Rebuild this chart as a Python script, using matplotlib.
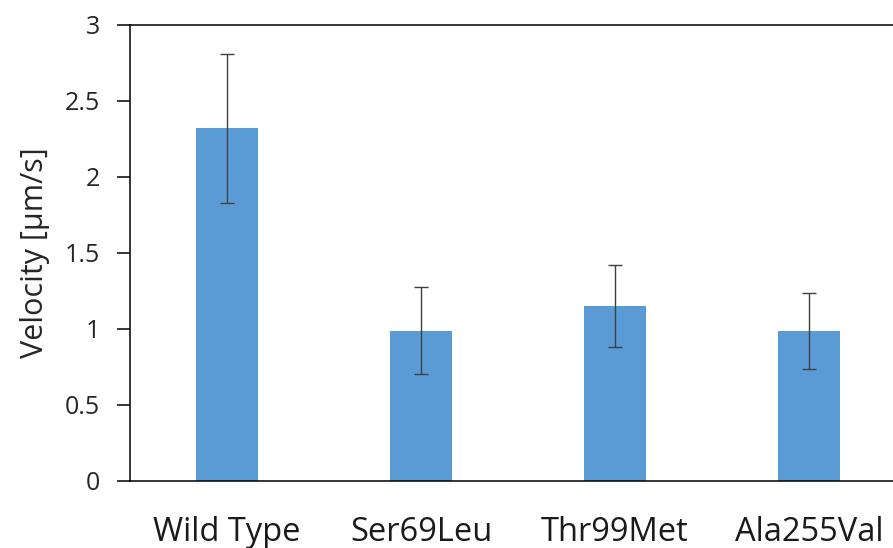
import matplotlib
matplotlib.use("Agg")
import matplotlib.pyplot as plt

categories = ["Wild Type", "Ser69Leu", "Thr99Met", "Ala255Val"]
velocity = [2.32, 0.99, 1.15, 0.99]
errors = [0.49, 0.285, 0.27, 0.25]
yticks = [0, 0.5, 1, 1.5, 2, 2.5, 3]
ytick_labels = ["0", "0.5", "1", "1.5", "2", "2.5", "3"]

plt.rcParams['font.family'] = ['Open Sans', 'DejaVu Sans']

fig = plt.figure(figsize=(8.93, 5.48), dpi=100)
W, H = 893, 548
ax = fig.add_axes([130 / W, 1 - 481 / H, 776 / W, 456 / H])

x = list(range(len(categories)))
ax.bar(x, velocity, width=0.315, color="#5B9BD5", zorder=2)
ax.errorbar(x, velocity, yerr=errors, fmt="none", ecolor="#404040",
            elinewidth=1.0, capsize=4.7, capthick=1.0, zorder=3)

ax.set_xlim(-0.5, 3.5)
ax.set_ylim(0, 3)
ax.set_yticks(yticks)
ax.set_yticklabels(ytick_labels, fontsize=18, color="#262626")
ax.set_xticks(x)
ax.set_xticklabels(categories, fontsize=23.5, color="#1a1a1a")
ax.tick_params(axis="y", direction="out", length=9.4, width=1.1, pad=12, color="black")
ax.tick_params(axis="x", length=0, pad=25)
ax.set_ylabel("Velocity [µm/s]", fontsize=22, color="#262626", labelpad=11)

for s in ["left", "bottom", "top"]:
    ax.spines[s].set_linewidth(1.1)
    ax.spines[s].set_color("black")
ax.spines["right"].set_visible(False)

fig.savefig("out.png", dpi=100)
